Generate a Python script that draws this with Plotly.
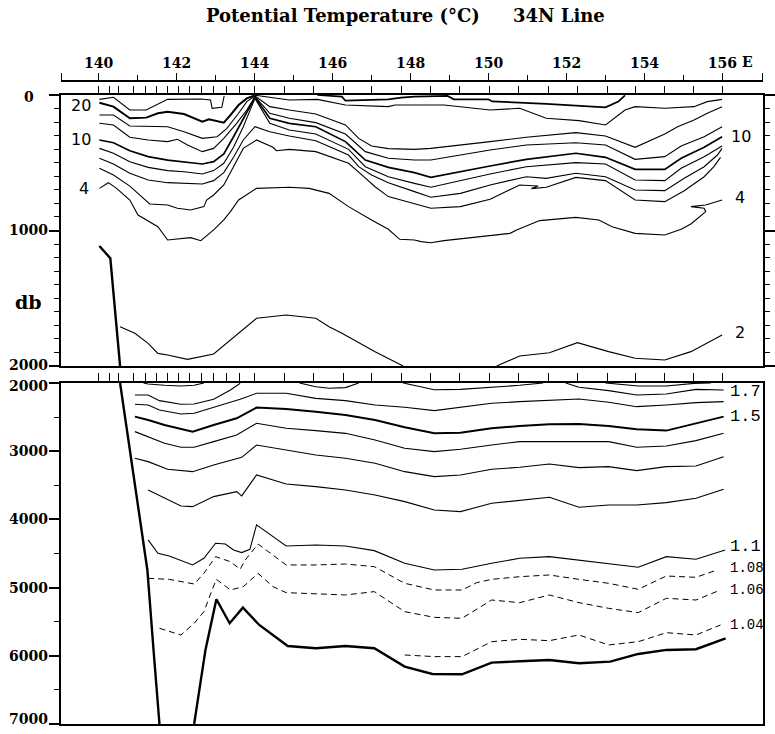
import plotly.graph_objects as go

# ---------------- data ----------------
stations = [140.0, 140.27, 140.52, 140.89, 141.2, 141.49, 141.77, 142.04, 142.34, 142.64, 142.94,
            143.27, 143.61, 144.0, 144.77, 145.5, 146.27, 147.01, 147.76, 148.51, 149.26, 150.03,
            150.78, 151.53, 152.28, 153.04, 153.77, 154.51, 155.26, 156.0]
lon_ticks = [140, 142, 144, 146, 148, 150, 152, 154, 156]
lon_minor = [141, 143, 145, 147, 149, 151, 153, 155]
top_db_ticks = [0, 1000, 2000]
bot_db_ticks = [2000, 3000, 4000, 5000, 6000, 7000]

# upper panel (0-2000 db)
bathy_top_lon = [140.02, 140.30, 140.55]
bathy_top_db = [1114, 1205, 2000]

t_a_lon = [140.02, 140.38, 140.80, 141.22, 141.77, 142.62, 142.87, 142.91, 143.16, 143.22]
t_a_db = [32, 17, 111, 111, 32, 30, 37, 98, 91, 7]

t_b_lon = [140.02, 140.38, 140.80, 141.22, 141.52, 141.77, 142.19, 142.66, 142.83, 143.21, 143.38, 143.59, 143.80, 144.01]
t_b_db = [57, 86, 172, 167, 135, 123, 140, 197, 180, 204, 148, 74, 25, 2]

t_s2_lon = [144.01, 144.89, 145.61, 146.33, 147.43, 147.60, 148.86, 150.04, 150.80, 151.48, 152.32, 153.00, 153.50, 153.76, 154.52, 155.27, 155.61, 155.99]
t_s2_db = [2, 37, 32, 74, 86, 74, 74, 111, 98, 172, 189, 221, 111, 86, 98, 86, 49, 32]

t_s1_lon = [145.61, 146.24, 146.33, 147.43, 147.76, 148.10, 148.95, 149.11, 150.00, 150.09, 151.48, 153.00, 153.33, 153.50]
t_s1_db = [0, 12, 42, 32, 20, 12, 7, 32, 32, 47, 66, 91, 49, 2]

t_c_lon = [140.02, 140.38, 140.80, 141.27, 141.77, 142.19, 142.66, 143.04, 143.29, 143.59, 143.80, 144.01, 144.39, 144.89,
           145.57, 146.33, 146.67, 147.00, 147.43, 148.10, 148.52, 150.04, 150.97, 152.24, 153.00, 153.76, 154.52,
           154.85, 155.27, 155.61, 155.99]
t_c_db = [148, 148, 229, 229, 234, 271, 320, 308, 246, 135, 49, 7, 86, 111, 140, 221, 320, 376, 396, 401, 394, 344, 312,
          278, 303, 386, 288, 234, 184, 135, 86]

t_d_lon = [140.02, 140.38, 140.80, 141.27, 141.77, 142.02, 142.28, 142.66, 142.95, 143.21, 143.54, 143.80, 144.01, 144.39,
           144.89, 145.57, 146.33, 146.84, 147.43, 148.10, 148.52, 150.04, 150.97, 152.24, 153.00, 153.76, 154.52,
           154.94, 155.53, 155.99]
t_d_db = [209, 221, 312, 332, 344, 327, 369, 418, 394, 320, 209, 111, 12, 135, 172, 204, 288, 418, 467, 480, 480, 406,
          369, 352, 369, 475, 455, 376, 308, 234]

t_e_lon = [140.02, 140.38, 140.80, 141.27, 141.77, 142.19, 142.66, 142.95, 143.21, 143.46, 143.71, 143.88, 144.01, 144.39,
           144.89, 145.57, 146.33, 146.84, 147.43, 148.10, 148.52, 150.04, 150.97, 152.24, 153.00, 153.76, 154.52,
           154.94, 155.53, 155.99]
t_e_db = [332, 352, 411, 455, 480, 492, 509, 492, 435, 308, 172, 86, 17, 172, 209, 234, 344, 480, 534, 573, 608, 524,
          475, 430, 460, 549, 549, 467, 386, 308]

t_f_lon = [140.02, 140.38, 140.80, 141.27, 141.77, 142.19, 142.66, 142.95, 143.21, 143.46, 143.71, 144.01, 144.39, 144.89,
           145.57, 146.41, 146.84, 147.43, 148.10, 148.52, 150.04, 150.97, 152.24, 153.00, 153.76, 154.52, 154.94,
           155.53, 155.99]
t_f_db = [394, 430, 492, 534, 558, 566, 583, 558, 504, 386, 234, 25, 209, 258, 288, 401, 529, 603, 652, 681, 583, 529,
          499, 509, 627, 632, 541, 455, 376]

t_g_lon = [140.02, 140.38, 140.80, 141.27, 141.77, 142.19, 142.66, 142.95, 143.21, 143.46, 143.71, 144.01, 144.39, 144.89,
           145.57, 146.41, 146.67, 147.00, 147.43, 148.10, 148.52, 149.28, 150.04, 150.97, 151.48, 152.24, 153.00,
           153.76, 154.52, 155.02, 155.53, 155.87, 155.99]
t_g_db = [467, 509, 578, 627, 647, 652, 657, 632, 573, 460, 332, 234, 271, 303, 337, 443, 529, 590, 647, 713, 755, 726,
          664, 603, 615, 578, 603, 701, 706, 615, 529, 443, 394]

t_h_lon = [140.02, 140.38, 140.80, 141.14, 141.31, 141.77, 142.02, 142.36, 142.70, 142.77, 142.95, 143.21, 143.46, 143.71,
           144.05, 144.47, 144.56, 144.89, 145.57, 146.41, 146.75, 147.09, 147.43, 148.10, 148.52, 149.28, 150.04,
           150.80, 151.27, 151.10, 151.48, 152.24, 153.00, 153.76, 154.52, 155.02, 155.53, 155.78, 155.95]
t_h_db = [541, 590, 672, 763, 804, 812, 836, 849, 824, 775, 738, 664, 529, 394, 332, 386, 411, 401, 418, 504, 590, 677,
          750, 800, 836, 824, 770, 664, 672, 691, 681, 608, 632, 775, 787, 706, 603, 529, 460]

t_4_lon = [140.02, 140.25, 140.46, 140.80, 141.01, 141.52, 141.77, 142.36, 142.62, 142.95, 143.21, 143.38, 143.59, 144.05,
           144.89, 145.40, 145.91, 146.41, 147.00, 147.43, 147.72, 148.10, 148.27, 148.52, 148.86, 149.71, 150.55,
           150.72, 151.31, 152.24, 152.83, 153.17, 153.76, 154.52, 154.94, 155.19, 155.57, 155.53, 155.19, 155.57, 155.99]
t_4_db = [689, 647, 689, 775, 886, 972, 1070, 1053, 1075, 996, 922, 861, 775, 689, 681, 689, 726, 824, 922, 991, 1065,
          1070, 1082, 1090, 1075, 1050, 1021, 996, 927, 903, 922, 972, 1021, 1033, 991, 952, 861, 836, 824, 812, 775]

t_2a_lon = [140.55, 140.93, 141.27, 141.52, 141.77, 142.28, 142.95, 143.38, 144.05, 144.81, 145.57, 145.91, 146.24, 147.09, 147.72, 147.81]
t_2a_db = [1710, 1759, 1833, 1907, 1919, 1951, 1911, 1808, 1648, 1624, 1648, 1710, 1759, 1894, 1985, 2000]
t_2b_lon = [150.21, 150.80, 151.56, 152.28, 153.08, 153.76, 154.52, 155.19, 155.99]
t_2b_db = [2000, 1926, 1902, 1828, 1894, 1943, 1956, 1894, 1771]

# lower panel (2000-7000 db)
slope_lon = [140.55, 140.81, 141.06, 141.25, 141.42, 141.56]
slope_db = [2000, 3000, 4000, 4742, 6000, 7000]
floor_lon = [142.45, 142.74, 143.02, 143.36, 143.70, 144.12, 144.85, 145.57, 146.33, 147.07, 147.85, 148.56, 149.32,
             150.08, 150.80, 151.56, 152.32, 153.12, 153.84, 154.56, 155.32, 156.08]
floor_db = [7000, 5914, 5171, 5523, 5294, 5548, 5856, 5889, 5856, 5889, 6159, 6266, 6271, 6100, 6080, 6061, 6110, 6085,
            5973, 5914, 5904, 5743]

b20_lon = [147.81, 148.61, 149.28, 150.08, 150.80, 151.40]
b20_db = [2000, 2100, 2093, 2063, 2034, 2000]
b18a_lon = [141.15, 141.27, 141.69, 142.11, 142.45, 142.70]
b18a_db = [2000, 2015, 2034, 2044, 2034, 2000]
b18b_lon = [145.15, 145.57, 145.91, 146.33, 146.67]
b18b_db = [2000, 2054, 2078, 2068, 2000]
b18c_lon = [153.00, 153.33, 153.84, 154.56, 155.27, 155.70]
b18c_db = [2000, 2015, 2044, 2044, 2005, 2000]
b17a_lon = [140.93, 141.27, 141.56, 142.11, 142.45, 142.95, 143.38, 143.63]
b17a_db = [2176, 2176, 2259, 2312, 2307, 2239, 2103, 2005]
b17b_lon = [151.98, 152.32, 153.08, 153.80, 154.56, 155.32, 156.03]
b17b_db = [2000, 2063, 2112, 2176, 2161, 2093, 2103]
b16_lon = [140.93, 141.27, 141.56, 142.11, 142.45, 142.95, 143.63, 144.05, 144.81, 145.57, 146.33, 147.09, 147.85,
           148.61, 149.28, 150.08, 150.80, 151.56, 152.32, 153.08, 153.80, 154.56, 155.32, 156.03]
b16_db = [2312, 2322, 2396, 2454, 2444, 2356, 2239, 2151, 2151, 2225, 2259, 2322, 2356, 2405, 2356, 2298, 2273, 2249,
          2234, 2283, 2347, 2322, 2288, 2273]
b15_lon = [140.93, 141.27, 141.69, 142.41, 142.95, 143.54, 144.05, 144.81, 145.57, 146.33, 147.09, 147.85, 148.61,
           149.28, 150.08, 150.80, 151.56, 152.32, 153.08, 153.80, 154.56, 155.32, 156.03]
b15_db = [2493, 2542, 2615, 2713, 2615, 2518, 2361, 2381, 2420, 2469, 2542, 2650, 2738, 2728, 2664, 2630, 2606, 2601,
          2630, 2679, 2698, 2591, 2493]
b14_lon = [140.93, 141.27, 141.69, 142.11, 142.45, 142.95, 143.54, 144.05, 144.81, 145.57, 146.33, 147.09, 147.85,
           148.61, 149.28, 150.08, 150.80, 151.56, 152.32, 153.08, 153.80, 154.56, 155.32, 156.03]
b14_db = [2713, 2786, 2884, 2943, 2943, 2860, 2762, 2591, 2664, 2698, 2738, 2835, 2957, 3006, 2972, 2909, 2860, 2860,
          2860, 2860, 2943, 2923, 2845, 2738]
b13_lon = [140.93, 141.27, 141.77, 142.41, 142.95, 143.54, 143.67, 144.05, 144.81, 145.57, 146.33, 147.09, 147.85,
           148.61, 149.28, 150.08, 150.80, 151.56, 152.32, 153.08, 153.80, 154.56, 155.32, 156.03]
b13_db = [3104, 3153, 3265, 3300, 3202, 3119, 3090, 2909, 2982, 3055, 3104, 3177, 3300, 3373, 3349, 3265, 3236, 3187,
          3241, 3226, 3285, 3226, 3216, 3080]
b12_lon = [141.27, 141.69, 142.11, 142.41, 142.95, 143.54, 143.67, 144.05, 144.81, 145.57, 146.33, 147.09, 147.85,
           148.61, 149.28, 150.08, 150.80, 151.56, 152.32, 153.08, 153.80, 154.56, 155.32, 156.03]
b12_db = [3568, 3690, 3803, 3813, 3666, 3593, 3656, 3349, 3480, 3520, 3568, 3642, 3739, 3862, 3886, 3764, 3725, 3676,
          3822, 3788, 3788, 3754, 3690, 3559]
b11_lon = [141.27, 141.52, 141.81, 142.41, 142.70, 143.00, 143.25, 143.46, 143.67, 143.88, 144.05, 144.81, 145.57,
           146.33, 147.07, 147.85, 148.61, 149.32, 150.08, 150.80, 151.56, 152.32, 153.08, 153.84, 154.56, 155.32, 156.07]
b11_db = [4301, 4497, 4536, 4668, 4570, 4350, 4360, 4448, 4487, 4438, 4081, 4389, 4375, 4389, 4458, 4644, 4741, 4731,
          4644, 4570, 4546, 4595, 4644, 4702, 4546, 4585, 4448]
b108_lon = [141.27, 141.81, 142.45, 142.70, 143.00, 143.38, 143.63, 143.76, 144.09, 144.47, 144.81, 145.57, 146.33,
            147.07, 147.85, 148.61, 149.32, 149.70, 150.08, 150.80, 151.56, 152.32, 153.08, 153.84, 154.56, 155.32, 155.86]
b108_db = [4864, 4879, 4947, 4791, 4546, 4620, 4732, 4595, 4361, 4522, 4668, 4668, 4654, 4693, 4937, 5035, 5035, 4927,
           4879, 4840, 4815, 4879, 4937, 5025, 4830, 4849, 4742]
b106_lon = [141.56, 142.11, 142.45, 142.70, 142.91, 143.02, 143.38, 143.71, 144.09, 144.47, 144.81, 145.57, 146.33,
            147.07, 147.85, 148.61, 149.32, 150.08, 150.80, 151.56, 152.32, 153.08, 153.84, 154.56, 155.32, 155.95]
b106_db = [5597, 5695, 5524, 5353, 5035, 4879, 5035, 4986, 4791, 4986, 5074, 5094, 5108, 5059, 5353, 5436, 5450, 5182,
           5221, 5108, 5221, 5304, 5367, 5157, 5182, 5035]
b104_lon = [147.85, 148.61, 149.32, 150.08, 150.80, 151.56, 152.32, 153.08, 153.84, 154.56, 155.32, 155.95]
b104_db = [5988, 6012, 6012, 5793, 5758, 5778, 5695, 5841, 5793, 5661, 5695, 5548]

# ---------------- figure ----------------
W, H = 775, 734
XMIN, XMAX = 139.04, 157.04
L, R = 62 / W, 773 / W


def fy(px):
    return 1 - px / H


SERIF = "DejaVu Serif"
SANS = "DejaVu Sans"
MONO = "Liberation Mono"

fig = go.Figure()


def add_line(lon, db, panel, width=1.1, dash="solid"):
    xa, ya = ("x", "y") if panel == 1 else ("x2", "y2")
    fig.add_trace(go.Scatter(x=lon, y=db, mode="lines", xaxis=xa, yaxis=ya,
                             line=dict(color="black", width=width, dash=dash),
                             hoverinfo="skip", showlegend=False))


THIN, BOLD = 1.1, 2.0
# upper panel
add_line(bathy_top_lon, bathy_top_db, 1, 2.4)
add_line(t_a_lon, t_a_db, 1, THIN)
add_line(t_b_lon, t_b_db, 1, BOLD)
add_line(t_s2_lon, t_s2_db, 1, THIN)
add_line(t_s1_lon, t_s1_db, 1, 1.7)
add_line(t_c_lon, t_c_db, 1, THIN)
add_line(t_d_lon, t_d_db, 1, THIN)
add_line(t_e_lon, t_e_db, 1, 1.7)
add_line(t_f_lon, t_f_db, 1, THIN)
add_line(t_g_lon, t_g_db, 1, THIN)
add_line(t_h_lon, t_h_db, 1, THIN)
add_line(t_4_lon, t_4_db, 1, THIN)
add_line(t_2a_lon, t_2a_db, 1, THIN)
add_line(t_2b_lon, t_2b_db, 1, THIN)
# lower panel
add_line(slope_lon, slope_db, 2, 2.4)
add_line(floor_lon, floor_db, 2, 2.4)
for lo, d in [(b20_lon, b20_db), (b18a_lon, b18a_db), (b18b_lon, b18b_db), (b18c_lon, b18c_db),
              (b17a_lon, b17a_db), (b17b_lon, b17b_db), (b16_lon, b16_db), (b14_lon, b14_db),
              (b13_lon, b13_db), (b12_lon, b12_db), (b11_lon, b11_db)]:
    add_line(lo, d, 2, THIN)
add_line(b15_lon, b15_db, 2, BOLD)
for lo, d in [(b108_lon, b108_db), (b106_lon, b106_db), (b104_lon, b104_db)]:
    add_line(lo, d, 2, 1.0, "6px,4px")

# invisible trace so that the free-standing longitude axis is drawn
fig.add_trace(go.Scatter(x=[XMIN, XMAX], y=[0, 0], xaxis="x3", yaxis="y", mode="markers",
                         marker=dict(opacity=0, size=1), hoverinfo="skip", showlegend=False))

axfont = dict(family=SERIF, size=14, color="black", weight="bold")
common_x = dict(domain=[L, R], range=[XMIN, XMAX], showgrid=False, zeroline=False,
                showline=True, linecolor="black", linewidth=1.8)

fig.update_layout(
    width=W, height=H, margin=dict(l=0, r=0, t=0, b=0),
    paper_bgcolor="white", plot_bgcolor="white", showlegend=False,
    xaxis=dict(**common_x, anchor="y", side="top", mirror=True, tickmode="array", tickvals=stations,
               ticks="outside", ticklen=7, tickwidth=1.2, tickcolor="black", showticklabels=False),
    yaxis=dict(domain=[fy(366), fy(95)], range=[2000, 0], anchor="x", showgrid=False, zeroline=False,
               showline=True, linecolor="black", linewidth=1.8, mirror="ticks",
               tickmode="array", tickvals=top_db_ticks, ticks="outside", ticklen=10, tickwidth=1.5,
               tickcolor="black", showticklabels=False,
               minor=dict(dtick=100, tick0=0, ticks="outside", ticklen=5, tickwidth=1.2, tickcolor="black",
                          showgrid=False)),
    xaxis2=dict(**common_x, anchor="y2", side="top", mirror=True, tickmode="array", tickvals=stations,
                ticks="outside", ticklen=8, tickwidth=1.2, tickcolor="black", showticklabels=False),
    yaxis2=dict(domain=[fy(724), fy(383)], range=[7000, 2000], anchor="x2", showgrid=False, zeroline=False,
                showline=True, linecolor="black", linewidth=1.8, mirror=True,
                tickmode="array", tickvals=bot_db_ticks, ticks="outside", ticklen=10, tickwidth=1.5,
                tickcolor="black", showticklabels=False,
                minor=dict(dtick=500, tick0=0, ticks="outside", ticklen=5, tickwidth=1.2, tickcolor="black",
                           showgrid=False)),
    xaxis3=dict(domain=[L, R], range=[XMIN, XMAX], overlaying="x", anchor="free", position=fy(81),
                side="top", showgrid=False, zeroline=False, showline=True, linecolor="black", linewidth=1.5,
                tickmode="array", tickvals=[XMIN + 0.01] + lon_ticks + [XMAX - 0.01],
                ticktext=[""] + [str(v) for v in lon_ticks] + [""],
                ticks="outside", ticklen=7, tickwidth=1.3, tickcolor="black", tickfont=axfont,
                minor=dict(tickvals=lon_minor, ticks="outside", ticklen=5, tickwidth=1.2, tickcolor="black",
                           showgrid=False)),
)

anns = []


def ann(text, x, y, xref, yref, size, family, xanchor="center", yanchor="middle", yshift=0, bold=False):
    t = "<b>%s</b>" % text if bold else text
    anns.append(dict(text=t, x=x, y=y, xref=xref, yref=yref, showarrow=False, xanchor=xanchor,
                     yanchor=yanchor, yshift=yshift, font=dict(family=family, size=size, color="black")))


# title
ann("Potential Temperature (°C)", 347.5 / W, fy(15), "paper", "paper", 18, SERIF, bold=True)
ann("34N Line", 566.5 / W, fy(15), "paper", "paper", 18, SERIF, bold=True)
ann("E", 757 / W, fy(62), "paper", "paper", 14, SERIF, bold=True)

# depth labels
for d in top_db_ticks:
    ys = {0: -2, 1000: 0, 2000: 1}[d]
    ann(str(d), 29 / W, d, "paper", "y", 14, SERIF, yshift=ys, bold=True)
for d in bot_db_ticks:
    ys = {2000: -3, 7000: 5}.get(d, 0)
    ann(str(d), 29 / W, d, "paper", "y2", 14, SERIF, yshift=ys, bold=True)
ann("db", 29 / W, 1528, "paper", "y", 19, SERIF, bold=True)

# contour labels upper panel
ann("20", 139.86, 74, "x", "y", 16, SANS, xanchor="right")
ann("10", 139.86, 332, "x", "y", 16, SANS, xanchor="right")
ann("4", 139.80, 689, "x", "y", 16, SANS, xanchor="right")
ann("10", 156.18, 303, "x", "y", 16, SANS, xanchor="left")
ann("4", 156.28, 760, "x", "y", 16, SANS, xanchor="left")
ann("2", 156.28, 1754, "x", "y", 16, SANS, xanchor="left")
# contour labels lower panel
ann("1.7", 156.15, 2128, "x2", "y2", 17, MONO, xanchor="left")
ann("1.5", 156.15, 2494, "x2", "y2", 17, MONO, xanchor="left")
ann("1.1", 156.15, 4400, "x2", "y2", 17, MONO, xanchor="left")
ann("1.08", 156.15, 4712, "x2", "y2", 14, MONO, xanchor="left")
ann("1.06", 156.15, 5035, "x2", "y2", 14, MONO, xanchor="left")
ann("1.04", 156.15, 5548, "x2", "y2", 14, MONO, xanchor="left")

fig.update_layout(annotations=anns)
fig.write_html("out.html")
